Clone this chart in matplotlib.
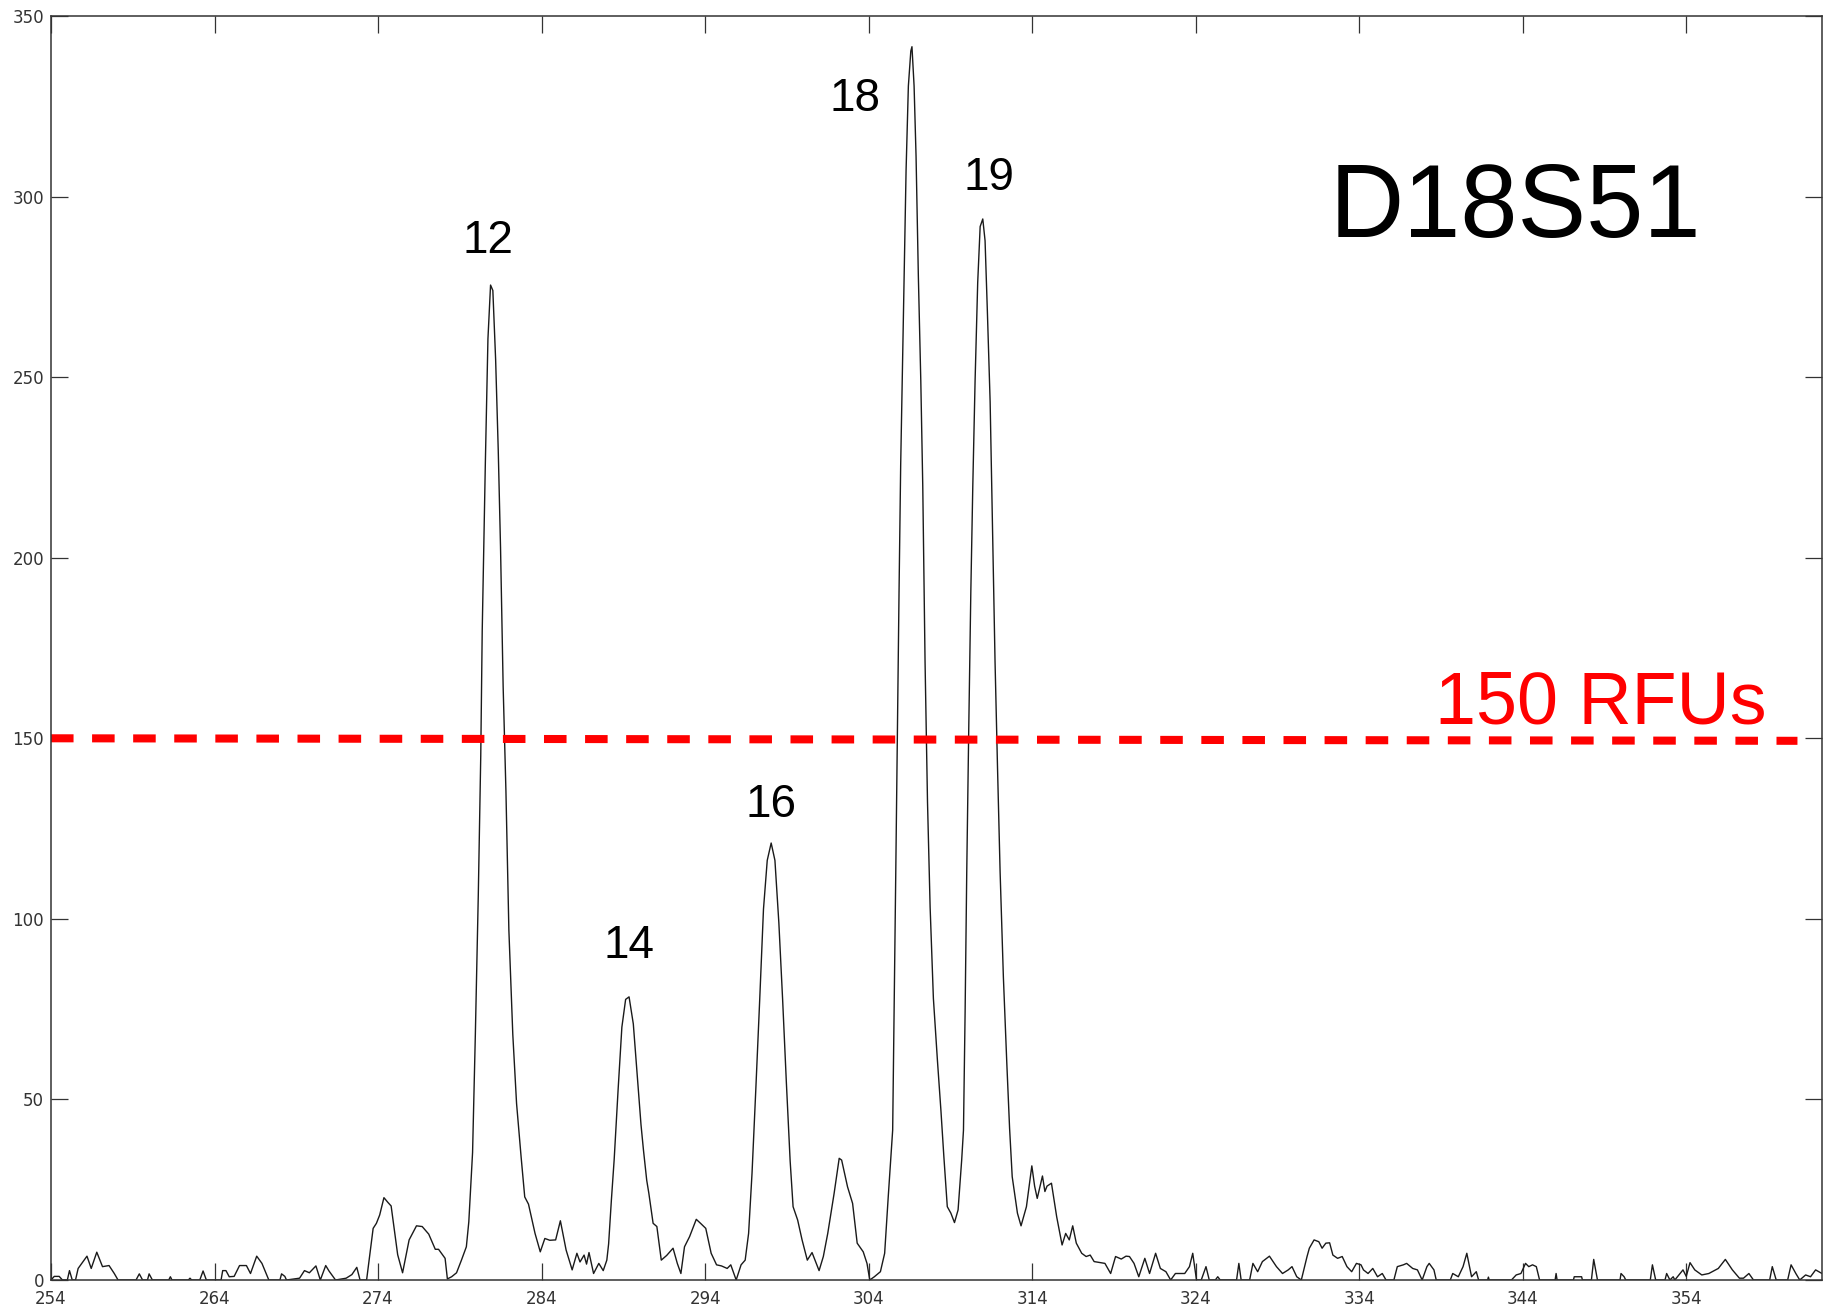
import matplotlib
matplotlib.use("Agg")
import matplotlib.pyplot as plt

# electropherogram trace, D18S51 locus (size in bp, signal in RFU)
size_bp = [
    254.0, 254.2, 254.5, 254.7, 255.0, 255.13, 255.3, 255.5, 255.66, 256.2,
    256.46, 256.8, 257.15, 257.55, 257.87, 258.1, 259.2, 259.4, 259.6, 259.9,
    260.0, 260.2, 261.2, 261.3, 261.4, 262.4, 262.5, 262.6, 263.1, 263.3,
    263.5, 264.4, 264.5, 264.7, 264.9, 265.2, 265.53, 265.95, 266.2, 266.58,
    266.9, 267.32, 268.0, 268.1, 268.3, 268.4, 269.2, 269.5, 269.8, 270.2,
    270.47, 270.8, 271.0, 271.4, 272.05, 272.4, 272.7, 272.9, 273.3, 273.7,
    273.9, 274.1, 274.36, 274.6, 274.8, 275.0, 275.2, 275.5, 275.9, 276.35,
    276.7, 277.1, 277.5, 277.7, 278.1, 278.24, 278.5, 278.8, 279.1, 279.4,
    279.55, 279.78, 279.95, 280.13, 280.28, 280.37, 280.56, 280.72, 280.88, 281.02,
    281.19, 281.35, 281.49, 281.65, 281.82, 282.0, 282.24, 282.47, 282.75, 282.97,
    283.2, 283.6, 283.92, 284.2, 284.5, 284.86, 285.15, 285.5, 285.87, 286.16,
    286.35, 286.6, 286.75, 286.9, 287.18, 287.5, 287.77, 287.99, 288.1, 288.27,
    288.44, 288.68, 288.91, 289.14, 289.35, 289.61, 289.85, 290.08, 290.23, 290.43,
    290.56, 290.82, 291.05, 291.32, 291.65, 292.04, 292.3, 292.52, 292.74, 293.05,
    293.46, 293.72, 294.04, 294.37, 294.7, 295.0, 295.35, 295.57, 295.9, 296.2,
    296.45, 296.66, 296.87, 297.1, 297.34, 297.57, 297.8, 298.04, 298.27, 298.51,
    298.74, 298.97, 299.2, 299.38, 299.66, 299.93, 300.25, 300.54, 300.8, 300.97,
    301.23, 301.5, 301.89, 302.2, 302.35, 302.71, 303.02, 303.3, 303.67, 303.9,
    304.07, 304.35, 304.72, 304.98, 305.2, 305.47, 305.56, 305.66, 305.76, 305.86,
    305.96, 306.13, 306.29, 306.43, 306.58, 306.65, 306.78, 306.9, 307.04, 307.19,
    307.31, 307.45, 307.6, 307.76, 307.96, 308.21, 308.42, 308.6, 308.81, 309.03,
    309.25, 309.47, 309.69, 309.8, 309.9, 310.0, 310.12, 310.25, 310.37, 310.51,
    310.67, 310.82, 310.98, 311.12, 311.26, 311.43, 311.57, 311.73, 311.88, 312.04,
    312.24, 312.45, 312.62, 312.78, 313.1, 313.32, 313.65, 313.98, 314.15, 314.31,
    314.63, 314.78, 314.91, 315.18, 315.5, 315.83, 316.05, 316.27, 316.48, 316.7,
    317.03, 317.3, 317.55, 317.79, 318.2, 318.45, 318.8, 319.1, 319.45, 319.74,
    319.95, 320.23, 320.52, 320.89, 321.18, 321.55, 321.84, 322.18, 322.47, 322.76,
    323.33, 323.62, 323.82, 324.05, 324.34, 324.63, 324.83, 325.2, 325.35, 325.5,
    326.5, 326.64, 326.78, 327.3, 327.5, 327.79, 328.08, 328.51, 328.94, 329.31,
    329.66, 329.89, 330.18, 330.46, 330.81, 330.95, 331.24, 331.53, 331.73, 331.96,
    332.19, 332.39, 332.68, 332.96, 333.25, 333.54, 333.83, 334.11, 334.26, 334.54,
    334.83, 335.12, 335.41, 335.64, 336.12, 336.33, 336.7, 336.9, 337.27, 337.56,
    337.85, 338.14, 338.28, 338.57, 338.71, 339.57, 339.72, 340.06, 340.35, 340.58,
    340.87, 341.16, 341.3, 341.85, 341.9, 341.95, 343.31, 343.6, 343.89, 344.17,
    344.37, 344.6, 344.83, 345.03, 345.98, 346.04, 346.1, 347.1, 347.15, 347.6,
    347.65, 348.2, 348.34, 348.57, 349.95, 350.01, 350.2, 350.3, 351.8, 351.93,
    352.13, 352.7, 352.8, 353.0, 353.2, 353.3, 353.8, 354.0, 354.23, 354.52,
    354.95, 355.38, 355.96, 356.39, 356.82, 357.25, 357.5, 357.83, 358.11, 359.1,
    359.26, 359.5, 360.2, 360.41, 360.7, 360.94, 361.3, 361.6, 361.91, 362.1,
    362.3,
]
rfu = [
    0.0, 1.0, 1.0, 0.0, 0.0, 2.6, 0.0, 0.0, 3.2, 6.6,
    3.2, 7.7, 3.7, 4.0, 1.8, 0.0, 0.0, 1.7, 0.0, 0.0,
    1.7, 0.0, 0.0, 0.9, 0.0, 0.0, 0.5, 0.0, 0.0, 2.5,
    0.0, 0.0, 2.6, 2.6, 0.9, 1.0, 4.0, 4.0, 1.8, 6.6,
    4.6, 0.0, 0.0, 1.7, 1.0, 0.0, 0.5, 2.6, 2.0, 3.9,
    0.0, 4.0, 2.5, 0.0, 0.5, 1.5, 3.5, 0.0, 0.0, 14.3,
    15.7, 18.0, 22.8, 21.5, 20.5, 13.8, 7.0, 2.0, 11.1, 15.0,
    14.8, 12.7, 8.5, 8.5, 6.0, 0.3, 0.9, 2.0, 5.5, 9.2,
    16.1, 35.3, 68.0, 106.6, 145.0, 179.7, 225.9, 260.6, 275.5, 274.0,
    254.9, 229.8, 202.8, 164.3, 135.4, 96.9, 68.0, 48.9, 34.0, 23.0,
    21.0, 12.9, 7.8, 11.5, 11.0, 11.1, 16.4, 8.3, 2.8, 7.4,
    5.0, 6.9, 4.4, 7.6, 1.8, 4.6, 2.6, 5.5, 10.0, 22.2,
    33.4, 52.7, 70.0, 77.7, 78.4, 70.9, 56.5, 43.0, 36.0, 27.6,
    24.0, 15.7, 14.8, 5.5, 6.8, 8.8, 4.6, 1.8, 9.2, 12.0,
    16.8, 15.7, 14.3, 7.4, 4.2, 3.9, 3.2, 4.2, 0.0, 4.2,
    5.5, 12.9, 29.6, 52.7, 77.7, 102.7, 116.2, 121.0, 116.2, 98.9,
    77.7, 54.6, 33.0, 20.3, 16.6, 11.1, 5.5, 7.6, 4.6, 2.6,
    6.5, 12.9, 24.0, 33.7, 33.2, 25.8, 21.2, 10.2, 7.8, 4.6,
    0.0, 0.9, 2.3, 7.4, 23.1, 41.5, 74.2, 113.0, 151.9, 190.7,
    225.7, 268.4, 307.3, 330.6, 340.3, 341.5, 330.6, 311.2, 278.1, 249.0,
    219.9, 171.3, 132.4, 103.3, 78.0, 60.6, 47.0, 34.2, 20.3, 18.5,
    15.9, 19.4, 33.2, 41.5, 74.2, 113.0, 151.9, 190.7, 219.9, 249.0,
    276.2, 291.7, 293.8, 287.8, 268.4, 243.2, 210.2, 171.3, 142.2, 113.0,
    83.9, 60.0, 42.0, 28.6, 18.5, 15.0, 20.3, 31.6, 26.0, 22.6,
    28.8, 24.5, 26.0, 26.8, 17.5, 9.7, 12.9, 11.1, 15.0, 10.2,
    7.4, 6.5, 6.9, 5.1, 4.8, 4.6, 1.8, 6.5, 5.8, 6.6,
    6.5, 4.6, 0.9, 6.0, 1.8, 7.4, 3.2, 2.3, 0.0, 1.8,
    1.8, 3.7, 7.4, 0.0, 0.0, 3.7, 0.0, 0.0, 0.9, 0.0,
    0.0, 4.6, 0.0, 0.0, 4.6, 2.3, 5.1, 6.6, 3.7, 1.8,
    2.8, 3.7, 0.9, 0.0, 6.5, 8.8, 11.1, 10.6, 8.8, 10.2,
    10.3, 6.9, 6.0, 6.5, 3.7, 2.3, 4.6, 4.2, 2.8, 1.8,
    3.2, 0.9, 1.8, 0.0, 0.0, 3.7, 4.2, 4.6, 3.2, 2.8,
    0.0, 3.7, 4.6, 2.8, 0.0, 0.0, 1.8, 0.9, 3.7, 7.4,
    0.9, 2.3, 0.0, 0.0, 0.8, 0.0, 0.0, 1.4, 1.8, 4.6,
    3.7, 4.2, 3.7, 0.0, 0.0, 1.8, 0.0, 0.0, 0.9, 0.9,
    0.0, 0.0, 5.7, 0.0, 0.0, 1.8, 0.9, 0.0, 0.0, 4.2,
    0.0, 0.0, 1.8, 0.0, 0.9, 0.0, 2.8, 1.0, 4.8, 2.8,
    1.4, 1.8, 3.2, 5.7, 2.8, 0.5, 0.5, 1.8, 0.0, 0.0,
    3.7, 0.0, 0.0, 4.2, 1.8, 0.0, 1.4, 0.9, 2.8, 2.3,
    1.8,
]

# allele calls
alleles = ["12", "14", "16", "18", "19"]
allele_x = [280.72, 289.36, 298.04, 303.17, 311.37]
allele_y = [284.4, 89.3, 128.2, 323.7, 301.8]

threshold_x = [254.0, 360.8]
threshold_y = [150.0, 149.3]

x_ticks = list(range(254, 355, 10))
y_ticks = list(range(0, 351, 50))

fig = plt.figure(figsize=(18.37, 13.12), dpi=100)
ax = fig.add_axes([0.02776, 0.02439, 0.96407, 0.96341])

ax.plot(size_bp, rfu, color="#1a1a1a", lw=1.0)
ax.plot(threshold_x, threshold_y, color="#ff0000", lw=5.8,
        dashes=(2.8, 2.3), solid_capstyle="butt", dash_capstyle="butt")

for lab, lx, ly in zip(alleles, allele_x, allele_y):
    ax.text(lx, ly, lab, ha="center", va="baseline", fontsize=33,
            family="Liberation Sans", color="black")

ax.text(332.2, 288.8, "D18S51", ha="left", va="baseline", fontsize=74,
        family="Liberation Sans", color="black")
ax.text(338.65, 154.0, "150 RFUs", ha="left", va="baseline", fontsize=53,
        family="Liberation Sans", color="#ff0000")

ax.set_xlim(254, 362.3)
ax.set_ylim(0, 350)
ax.set_xticks(x_ticks)
ax.set_yticks(y_ticks)
ax.tick_params(direction="in", length=12, width=0.9, color="#333333",
               labelsize=12, labelcolor="#333333", top=True, right=True, pad=5)
ax.tick_params(axis="x", pad=7)
for sp in ax.spines.values():
    sp.set_color("#333333")
    sp.set_linewidth(1.1)

fig.savefig("out.png", dpi=100)
